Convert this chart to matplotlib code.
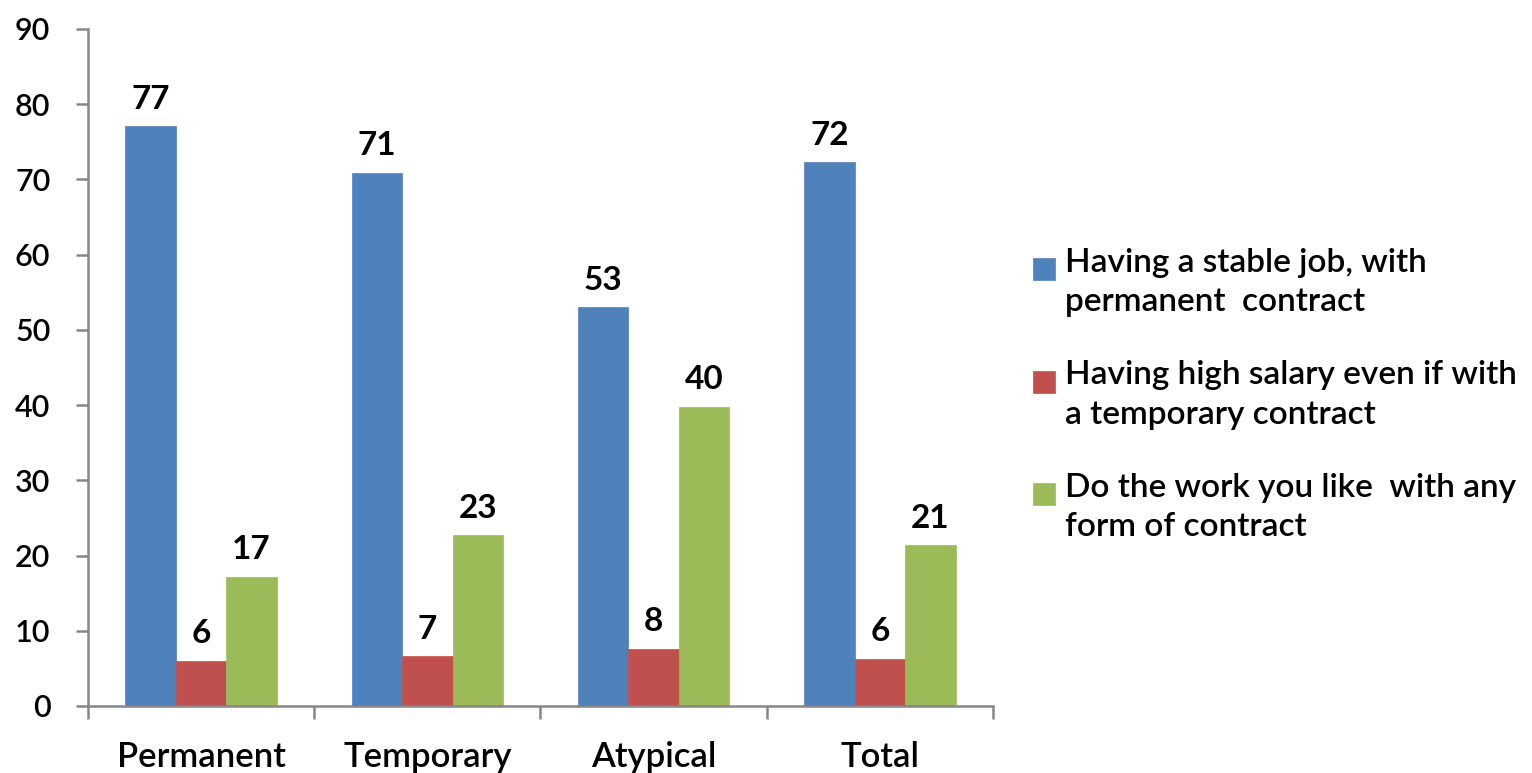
import numpy as np
import matplotlib.pyplot as plt
from matplotlib.patches import Rectangle
from matplotlib.legend_handler import HandlerPatch

plt.rcParams['font.family'] = ['Lato', 'DejaVu Sans']

categories = ['Permanent', 'Temporary', 'Atypical', 'Total']
series_names = ['Having a stable job, with\npermanent  contract',
                'Having high salary even if with\na temporary contract',
                'Do the work you like  with any\nform of contract']
stable_job = [77.1, 70.9, 53.0, 72.3]
high_salary = [6.0, 6.6, 7.6, 6.3]
work_you_like = [17.2, 22.7, 39.8, 21.4]
colors = ['#4F81BD', '#C0504D', '#9BBB59']


def top_square(legend, orig_handle, xdescent, ydescent, width, height, fontsize):
    # square handle sitting next to the first line of a two-line label
    side = width
    return Rectangle((-xdescent, -ydescent + height - side * 1.15), side, side)


def main():
    fig = plt.figure(figsize=(15.32, 7.73), dpi=100)
    ax = fig.add_axes([0.0574, 0.0867, 0.5908, 0.8758])

    x = np.arange(len(categories))
    width = 0.223
    all_series = [stable_job, high_salary, work_you_like]
    handles = []
    for i, vals in enumerate(all_series):
        pos = x + (i - 1) * width
        bars = ax.bar(pos, vals, width, color=colors[i], edgecolor=colors[i],
                      linewidth=0.5, label=series_names[i])
        handles.append(bars[0])
        for b, v in zip(bars, vals):
            ax.annotate(f'{v:.0f}', (b.get_x() + b.get_width() / 2, v),
                        xytext=(0, 9), textcoords='offset points',
                        ha='center', va='bottom', fontsize=24,
                        fontweight='bold')

    ax.set_xlim(-0.5, len(categories) - 0.5)
    ax.set_ylim(0, 90)
    ax.set_yticks(np.arange(0, 91, 10))
    ax.set_xticks(np.arange(-0.5, len(categories), 1.0))
    ax.set_xticklabels([])
    ax.set_xticks(x, minor=True)
    ax.set_xticklabels(categories, minor=True, fontsize=25,
                       fontweight='semibold')
    for lab in ax.get_yticklabels():
        lab.set_fontweight('semibold')

    for side in ['top', 'right']:
        ax.spines[side].set_visible(False)
    for side in ['left', 'bottom']:
        ax.spines[side].set_color('#868686')
        ax.spines[side].set_linewidth(1.8)
    ax.tick_params(axis='y', length=9, width=1.8, color='#868686',
                   labelsize=22, pad=18)
    ax.tick_params(axis='x', which='major', length=9, width=1.8,
                   color='#868686')
    ax.tick_params(axis='x', which='minor', length=0, pad=25)

    leg = fig.legend(handles, series_names, loc='upper left',
                     bbox_to_anchor=(0.655, 0.718), frameon=False,
                     prop={'size': 24, 'weight': 'semibold'},
                     handlelength=0.65, handleheight=2.3, handletextpad=0.3,
                     labelspacing=1.3,
                     handler_map={Rectangle: HandlerPatch(patch_func=top_square)})
    for t in leg.get_texts():
        t.set_linespacing(1.38)

    fig.savefig('out.png', dpi=100)


if __name__ == '__main__':
    main()
